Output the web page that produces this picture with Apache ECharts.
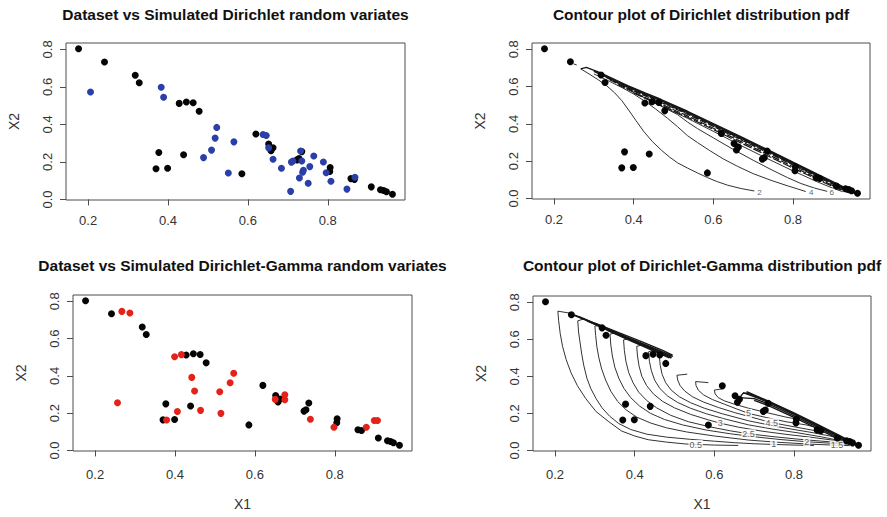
<!DOCTYPE html>
<html>
<head>
<meta charset="utf-8">
<script src="https://cdn.jsdelivr.net/npm/echarts@6/dist/echarts.min.js"></script>
<style>
  html, body { margin: 0; padding: 0; background: #fff; }
  #main { width: 887px; height: 517px; }
</style>
</head>
<body>
<div id="main"></div>
<script>
// Observed compositions (X1, X2)
const datasetPoints = [
  [0.176,0.803],[0.241,0.733],[0.318,0.662],[0.328,0.622],[0.428,0.512],[0.446,0.519],
  [0.463,0.515],[0.478,0.470],[0.377,0.250],[0.370,0.164],[0.399,0.166],[0.439,0.238],
  [0.585,0.137],[0.620,0.349],[0.652,0.295],[0.658,0.260],[0.663,0.276],[0.723,0.211],
  [0.728,0.218],[0.735,0.255],[0.806,0.170],[0.805,0.149],[0.858,0.111],[0.867,0.107],
  [0.909,0.067],[0.932,0.052],[0.940,0.048],[0.947,0.041],[0.962,0.028]
];

// Simulated Dirichlet random variates
const dirichletSim = [
  [0.206,0.573],[0.383,0.598],[0.389,0.545],[0.522,0.384],[0.518,0.327],[0.509,0.263],
  [0.489,0.223],[0.565,0.307],[0.551,0.141],[0.638,0.346],[0.646,0.341],[0.652,0.275],
  [0.663,0.214],[0.684,0.166],[0.707,0.043],[0.709,0.199],[0.713,0.205],[0.732,0.258],
  [0.735,0.205],[0.729,0.114],[0.739,0.156],[0.737,0.145],[0.751,0.086],[0.755,0.175],
  [0.765,0.232],[0.789,0.200],[0.796,0.142],[0.808,0.097],[0.848,0.055],[0.868,0.118]
];

// Simulated Dirichlet-Gamma random variates
const dirGammaSim = [
  [0.267,0.746],[0.287,0.737],[0.256,0.256],[0.399,0.503],[0.416,0.514],[0.442,0.392],
  [0.449,0.319],[0.406,0.209],[0.464,0.215],[0.379,0.163],[0.512,0.315],[0.515,0.199],
  [0.538,0.363],[0.547,0.414],[0.651,0.274],[0.675,0.299],[0.675,0.272],[0.739,0.167],
  [0.798,0.124],[0.879,0.124],[0.899,0.161],[0.907,0.161]
];

// Tick positions
const xTicks = [0.2, 0.4, 0.6, 0.8];
const yTicks = [0.0, 0.2, 0.4, 0.6, 0.8];

// Dirichlet pdf contour paths
const dirLevel2 = [[0.267,0.695],[0.285,0.672],[0.31,0.638],[0.332,0.605],[0.352,0.567],[0.37,0.525],
  [0.387,0.475],[0.405,0.42],[0.425,0.36],[0.447,0.305],[0.47,0.258],[0.49,0.222],[0.51,0.191],
  [0.535,0.163],[0.56,0.137],[0.585,0.112],[0.61,0.09],[0.636,0.071],[0.67,0.053],[0.703,0.040]];
const dirLevel4 = [[0.30,0.668],[0.335,0.633],[0.373,0.592],[0.40,0.56],[0.427,0.523],[0.455,0.48],
  [0.485,0.43],[0.51,0.385],[0.535,0.337],[0.56,0.30],[0.59,0.258],[0.625,0.212],[0.661,0.172],
  [0.70,0.133],[0.745,0.097],[0.786,0.068],[0.81,0.052],[0.832,0.037]];
const dirLevel6 = [[0.40,0.568],[0.44,0.527],[0.48,0.483],[0.51,0.45],[0.535,0.41],[0.56,0.375],
  [0.60,0.325],[0.65,0.263],[0.70,0.205],[0.745,0.155],[0.786,0.112],[0.82,0.08],[0.855,0.055],[0.886,0.038]];
const dirLevel8 = [[0.44,0.53],[0.469,0.497],[0.535,0.43],[0.60,0.36],[0.67,0.283],[0.744,0.205],
  [0.80,0.148],[0.86,0.09],[0.90,0.055],[0.925,0.036]];
const dirEdge = [
  [[0.267,0.695],[0.281,0.703],[0.314,0.676],[0.35,0.641],[0.385,0.605],[0.43,0.565],[0.469,0.531],
   [0.535,0.468],[0.60,0.402],[0.67,0.33],[0.744,0.254],[0.80,0.195],[0.86,0.132],[0.91,0.08],[0.957,0.030]],
  [[0.30,0.685],[0.35,0.637],[0.385,0.601],[0.43,0.561],[0.469,0.527],[0.535,0.464],[0.60,0.398],
   [0.67,0.326],[0.744,0.250],[0.80,0.191],[0.86,0.128],[0.91,0.076],[0.955,0.030]],
  [[0.30,0.682],[0.35,0.633],[0.385,0.597],[0.43,0.557],[0.469,0.523],[0.535,0.46],[0.60,0.394],
   [0.67,0.322],[0.744,0.246],[0.80,0.187],[0.86,0.125],[0.91,0.073],[0.954,0.030]]
];
const dirEdgeDashed = [
  [[0.33,0.65],[0.385,0.593],[0.43,0.553],[0.469,0.519],[0.535,0.456],[0.60,0.390],[0.67,0.318],
   [0.744,0.242],[0.80,0.183],[0.86,0.121],[0.91,0.069],[0.952,0.030]],
  [[0.34,0.637],[0.385,0.589],[0.43,0.549],[0.469,0.515],[0.535,0.452],[0.60,0.386],[0.67,0.314],
   [0.744,0.238],[0.80,0.179],[0.86,0.117],[0.91,0.066],[0.950,0.030]],
  [[0.36,0.61],[0.43,0.54],[0.469,0.506],[0.535,0.443],[0.60,0.377],[0.67,0.305],[0.744,0.229],
   [0.80,0.17],[0.86,0.109],[0.91,0.059],[0.945,0.030]],
  [[0.40,0.565],[0.469,0.499],[0.535,0.436],[0.60,0.370],[0.67,0.297],[0.744,0.221],
   [0.80,0.163],[0.86,0.103],[0.91,0.054],[0.942,0.030]]
];
const dirTip = [[0.249,0.722],[0.257,0.716]];
const dirLabels = [['2',0.716,0.034],['4',0.846,0.033],['6',0.897,0.032]];

// Dirichlet-Gamma pdf contour paths
const dgLevel05 = [[0.236,0.742],[0.207,0.752],[0.209,0.70],[0.213,0.63],[0.219,0.56],[0.228,0.49],
  [0.240,0.42],[0.256,0.35],[0.277,0.28],[0.303,0.21],[0.335,0.155],[0.367,0.105],[0.40,0.078],
  [0.434,0.058],[0.48,0.045],[0.527,0.035],[0.60,0.029],[0.66,0.027]];
const dgLevel1 = [[0.272,0.710],[0.257,0.700],[0.259,0.64],[0.263,0.58],[0.267,0.52],[0.272,0.46],
  [0.280,0.39],[0.290,0.333],[0.303,0.28],[0.318,0.23],[0.337,0.185],[0.36,0.145],[0.39,0.113],
  [0.43,0.088],[0.48,0.072],[0.54,0.060],[0.60,0.050],[0.65,0.042],[0.70,0.036],[0.80,0.029],[0.85,0.027]];
const dgLevel15 = [[0.31,0.674],[0.300,0.672],[0.302,0.62],[0.305,0.56],[0.310,0.50],[0.317,0.44],
  [0.327,0.38],[0.340,0.32],[0.357,0.265],[0.378,0.22],[0.405,0.18],[0.44,0.148],[0.48,0.122],
  [0.53,0.100],[0.60,0.078],[0.686,0.056],[0.76,0.044],[0.84,0.034],[0.908,0.028],[0.94,0.026]];
const dgLevel2 = [[0.35,0.634],[0.338,0.628],[0.340,0.57],[0.344,0.51],[0.350,0.45],[0.360,0.39],
  [0.373,0.335],[0.39,0.285],[0.412,0.24],[0.44,0.20],[0.475,0.167],[0.52,0.138],[0.58,0.110],
  [0.64,0.090],[0.70,0.074],[0.76,0.060],[0.832,0.047],[0.90,0.038],[0.955,0.032]];
const dgLevel25 = [[0.385,0.603],[0.372,0.597],[0.374,0.54],[0.378,0.48],[0.385,0.42],[0.396,0.365],
  [0.41,0.315],[0.43,0.27],[0.455,0.23],[0.49,0.19],[0.535,0.155],[0.59,0.127],[0.64,0.106],
  [0.686,0.090],[0.75,0.074],[0.81,0.061],[0.87,0.050],[0.93,0.040],[0.955,0.034]];
const dgLevel3 = [[0.42,0.570],[0.405,0.562],[0.407,0.51],[0.411,0.455],[0.418,0.40],[0.43,0.35],
  [0.447,0.305],[0.47,0.265],[0.50,0.23],[0.54,0.195],[0.585,0.165],[0.615,0.147],[0.66,0.126],
  [0.72,0.104],[0.78,0.087],[0.84,0.072],[0.90,0.055],[0.95,0.037]];
const dgLevel35 = [[0.45,0.543],[0.435,0.533],[0.437,0.48],[0.442,0.43],[0.45,0.38],[0.463,0.335],
  [0.482,0.295],[0.507,0.26],[0.54,0.228],[0.58,0.198],[0.63,0.168],[0.686,0.138],[0.75,0.114],
  [0.81,0.095],[0.87,0.073],[0.935,0.044]];
const dgLevel4 = [[0.475,0.520],[0.462,0.508],[0.464,0.46],[0.469,0.41],[0.478,0.365],[0.492,0.325],
  [0.512,0.29],[0.54,0.258],[0.575,0.228],[0.62,0.198],[0.686,0.160],[0.75,0.132],[0.80,0.113],
  [0.85,0.095],[0.89,0.078],[0.915,0.064]];
const dgLevel45 = [[0.532,0.412],[0.506,0.406],[0.508,0.38],[0.514,0.35],[0.526,0.32],[0.545,0.29],
  [0.572,0.262],[0.61,0.232],[0.65,0.205],[0.686,0.184],[0.744,0.150],[0.80,0.128],[0.85,0.108],[0.875,0.098]];
const dgLevel5 = [[0.585,0.366],[0.553,0.372],[0.554,0.35],[0.56,0.325],[0.573,0.30],[0.595,0.275],
  [0.625,0.25],[0.655,0.225],[0.686,0.200],[0.73,0.178],[0.78,0.155],[0.83,0.138],[0.845,0.13]];
const dgLevel55 = [[0.625,0.334],[0.600,0.326],[0.602,0.305],[0.61,0.285],[0.625,0.268],[0.65,0.25],
  [0.686,0.228],[0.73,0.205],[0.78,0.18],[0.80,0.172]];
const dgRidgeA = [
  [[0.234,0.742],[0.30,0.683],[0.36,0.627],[0.42,0.572],[0.493,0.503]],
  [[0.25,0.731],[0.32,0.667],[0.38,0.611],[0.44,0.558],[0.49,0.512]],
  [[0.26,0.722],[0.33,0.659],[0.39,0.603],[0.45,0.550],[0.496,0.508]],
  [[0.28,0.70],[0.34,0.642],[0.40,0.586],[0.45,0.54],[0.492,0.498]],
  [[0.30,0.688],[0.36,0.636],[0.42,0.585],[0.47,0.54],[0.495,0.515]],
  [[0.33,0.65],[0.39,0.592],[0.44,0.545],[0.487,0.50]]
];
const dgRidgeB = [
  [[0.681,0.318],[0.74,0.262],[0.80,0.203],[0.86,0.140],[0.91,0.085],[0.958,0.031]],
  [[0.672,0.312],[0.74,0.259],[0.80,0.199],[0.86,0.136],[0.91,0.082],[0.957,0.031]],
  [[0.666,0.292],[0.672,0.308],[0.685,0.31],[0.74,0.255],[0.80,0.195],[0.86,0.132],[0.91,0.078],[0.955,0.031]],
  [[0.663,0.285],[0.70,0.28],[0.74,0.247],[0.80,0.187],[0.86,0.125],[0.91,0.071],[0.952,0.031]],
  [[0.70,0.27],[0.74,0.238],[0.80,0.179],[0.86,0.117],[0.91,0.064],[0.948,0.031]]
];
const dgLabels = [['0.5',0.553,0.032],['1',0.749,0.033],['1.5',0.908,0.028],['2',0.832,0.047],
  ['2.5',0.686,0.090],['3',0.615,0.147],['4.5',0.744,0.150],['5',0.686,0.200]];

const titles = [
  'Dataset vs Simulated Dirichlet random variates',
  'Contour plot of Dirichlet distribution pdf',
  'Dataset vs Simulated Dirichlet-Gamma random variates',
  'Contour plot of Dirichlet-Gamma distribution pdf'
];

const FONT = '"Liberation Sans", Arial, Helvetica, sans-serif';
const INK = '#333333';
const DARK = '#161616';
const FRAME = '#4d4d4d';

const grids = [
  { left: 66, top: 43, width: 339, height: 157 },
  { left: 532, top: 43, width: 338, height: 156 },
  { left: 73, top: 295, width: 339, height: 156 },
  { left: 533, top: 296, width: 338, height: 155 }
].map(g => Object.assign(g, { show: true, borderColor: FRAME, borderWidth: 1, backgroundColor: 'transparent' }));

const xLabelMargin = [14, 14, 17, 17];
const xAxes = grids.map((g, i) => ({
  type: 'value', gridIndex: i, min: 0.1446, max: 0.9934,
  name: i >= 2 ? 'X1' : '', nameLocation: 'middle', nameGap: 46,
  nameTextStyle: { fontFamily: FONT, fontSize: 14, color: '#333' },
  axisLine: { show: false },
  axisTick: { show: true, customValues: xTicks, length: 6, lineStyle: { color: FRAME } },
  axisLabel: { customValues: xTicks, formatter: v => v.toFixed(1), margin: xLabelMargin[i],
    fontFamily: FONT, fontSize: 13, color: '#333' },
  splitLine: { show: false }
}));
const yAxes = grids.map((g, i) => ({
  type: 'value', gridIndex: i, min: -0.003, max: 0.834,
  name: 'X2', nameLocation: 'middle', nameGap: 45, nameRotate: 90,
  nameTextStyle: { fontFamily: FONT, fontSize: 14, color: '#333' },
  axisLine: { show: false },
  axisTick: { show: true, customValues: yTicks, length: 6, lineStyle: { color: FRAME } },
  axisLabel: { customValues: yTicks, formatter: v => v.toFixed(1), rotate: 90, margin: 12,
    fontFamily: FONT, fontSize: 13, color: '#333' },
  splitLine: { show: false }
}));

const series = [];
function dots(data, gi, color) {
  series.push({ type: 'scatter', xAxisIndex: gi, yAxisIndex: gi, data, symbolSize: 7,
    itemStyle: { color, opacity: 1 }, z: 5, silent: true });
}
function path(data, gi, opts) {
  const o = opts || {};
  series.push({ type: 'line', xAxisIndex: gi, yAxisIndex: gi, data, showSymbol: false, symbol: 'none',
    lineStyle: { color: o.color || INK, width: o.width || 1, type: o.dash || 'solid' }, z: 2, silent: true });
}
function levelLabels(list, gi, size) {
  series.push({ type: 'scatter', xAxisIndex: gi, yAxisIndex: gi, symbolSize: 1, z: 3, silent: true,
    itemStyle: { color: 'rgba(0,0,0,0)' },
    data: list.map(d => ({ name: d[0], value: [d[1], d[2]] })),
    label: { show: true, position: 'inside', formatter: '{b}', fontFamily: FONT, fontSize: size,
      color: '#333', backgroundColor: '#fff', padding: [0, 1] } });
}

// Panel 1: observed vs Dirichlet draws
dots(datasetPoints, 0, '#050505');
dots(dirichletSim, 0, '#2b3fa8');

// Panel 2: Dirichlet pdf contours
[dirLevel2, dirLevel4, dirLevel6, dirLevel8, dirTip].forEach(p => path(p, 1));
dirEdge.forEach(p => path(p, 1, { color: DARK, width: 1.3 }));
dirEdgeDashed.forEach((p, k) => path(p, 1, { color: DARK, width: 1.2, dash: [6 + k, 2] }));
levelLabels(dirLabels, 1, 8);
dots(datasetPoints, 1, '#050505');

// Panel 3: observed vs Dirichlet-Gamma draws
dots(datasetPoints, 2, '#050505');
dots(dirGammaSim, 2, '#e3221a');

// Panel 4: Dirichlet-Gamma pdf contours
[dgLevel05, dgLevel1, dgLevel15, dgLevel2, dgLevel25, dgLevel3, dgLevel35, dgLevel4,
 dgLevel45, dgLevel5, dgLevel55].forEach(p => path(p, 3));
dgRidgeA.forEach(p => path(p, 3, { color: DARK, width: 1.4 }));
dgRidgeB.forEach(p => path(p, 3, { color: DARK, width: 1.4 }));
levelLabels(dgLabels, 3, 9);
dots(datasetPoints, 3, '#050505');

const titleY = [14, 14, 265, 265];
const graphic = titles.map((t, i) => ({
  type: 'text', x: grids[i].left + grids[i].width / 2, y: titleY[i],
  style: { text: t, font: 'bold 15.5px ' + FONT, fill: '#111', textAlign: 'center', textVerticalAlign: 'middle' }
}));

const chart = echarts.init(document.getElementById('main'), null, { renderer: 'svg', width: 887, height: 517 });
chart.setOption({
  animation: false,
  backgroundColor: '#fff',
  grid: grids,
  xAxis: xAxes,
  yAxis: yAxes,
  series,
  graphic
});
</script>
</body>
</html>
